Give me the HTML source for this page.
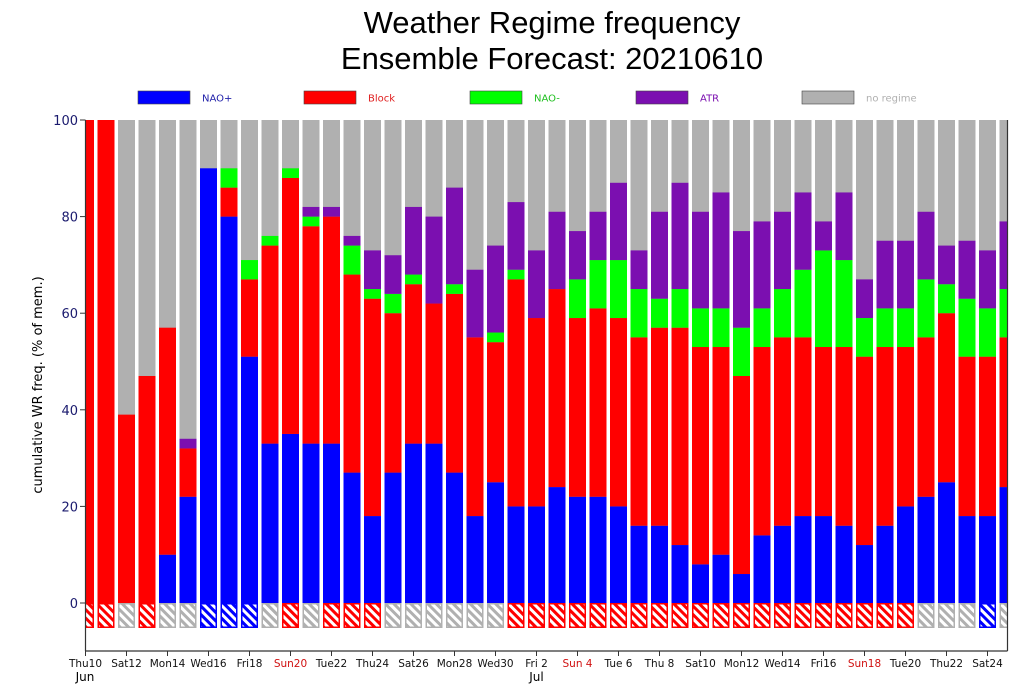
<!DOCTYPE html>
<html><head><meta charset="utf-8"><style>
html,body{margin:0;padding:0;background:#fff;}
svg{display:block;font-family:"DejaVu Sans","Liberation Sans",sans-serif;}
</style></head><body>
<svg id="chart" width="1024" height="686" viewBox="0 0 1024 686" xmlns="http://www.w3.org/2000/svg">
<defs>
<clipPath id="plotclip"><rect x="86" y="100" width="921" height="560"/></clipPath>
<pattern id="h-red" patternUnits="userSpaceOnUse" width="6" height="6" patternTransform="rotate(-45)"><rect width="6" height="6" fill="#fff"/><rect width="3" height="6" fill="#ff0000"/></pattern>
<pattern id="h-blue" patternUnits="userSpaceOnUse" width="6" height="6" patternTransform="rotate(-45)"><rect width="6" height="6" fill="#fff"/><rect width="3" height="6" fill="#0000ff"/></pattern>
<pattern id="h-gray" patternUnits="userSpaceOnUse" width="6" height="6" patternTransform="rotate(-45)"><rect width="6" height="6" fill="#fff"/><rect width="3" height="6" fill="#b0b0b0"/></pattern>
</defs>
<text x="552" y="33" font-size="31" text-anchor="middle" font-family="Liberation Sans, sans-serif">Weather Regime frequency</text>
<text x="552" y="69" font-size="31" text-anchor="middle" font-family="Liberation Sans, sans-serif">Ensemble Forecast: 20210610</text>
<g id="legend"></g>
<g id="bars" clip-path="url(#plotclip)"></g>
<g id="axes"></g>
<text transform="translate(42,385) rotate(-90)" font-size="13" text-anchor="middle">cumulative WR freq. (% of mem.)</text>
</svg>
<script>
const dayLabels = ["Thu10","Sat12","Mon14","Wed16","Fri18","Sun20","Tue22","Thu24","Sat26","Mon28","Wed30","Fri 2","Sun 4","Tue 6","Thu 8","Sat10","Mon12","Wed14","Fri16","Sun18","Tue20","Thu22","Sat24"];
const naoPlus = [0,0,0,0,10,22,90,80,51,33,35,33,33,27,18,27,33,33,27,18,25,20,20,24,22,22,20,16,16,12,8,10,6,14,16,18,18,16,12,16,20,22,25,18,18,24];
const block = [100,100,39,47,47,10,0,6,16,41,53,45,47,41,45,33,33,29,37,37,29,47,39,41,37,39,39,39,41,45,45,43,41,39,39,37,35,37,39,37,33,33,35,33,33,31];
const naoMinus = [0,0,0,0,0,0,0,4,4,2,2,2,0,6,2,4,2,0,2,0,2,2,0,0,8,10,12,10,6,8,8,8,10,8,10,14,20,18,8,8,8,12,6,12,10,10];
const atr = [0,0,0,0,0,2,0,0,0,0,0,2,2,2,8,8,14,18,20,14,18,14,14,16,10,10,16,8,18,22,20,24,20,18,16,16,6,14,8,14,14,14,8,12,12,14];
const dominant = ["r","r","g","r","g","g","b","b","b","g","r","g","r","r","r","g","g","g","g","g","g","r","r","r","r","r","r","r","r","r","r","r","r","r","r","r","r","r","r","r","r","g","g","g","b","g"];
const legendNames = ["NAO+","Block","NAO-","ATR","no regime"];
const yTicks = [0,20,40,60,80,100];

const NS="http://www.w3.org/2000/svg";
const X0=85.5, DX=20.5, BW=17, Y0=603, PPU=4.83;
const xs = i => X0 + DX*i;
const ys = v => Y0 - v*PPU;
const cols = {nao:"#0000ff",block:"#ff0000",naom:"#00ff00",atr:"#7b0fb0",none:"#b0b0b0"};
function mk(tag, attrs, parent){const e=document.createElementNS(NS,tag);for(const k in attrs)e.setAttribute(k,attrs[k]);parent.appendChild(e);return e;}
const bars=document.getElementById('bars');
for(let i=0;i<naoPlus.length;i++){
  const g=mk('g',{},bars);
  
  
  const segs=[[naoPlus[i],cols.nao,'nao-plus'],[block[i],cols.block,'block'],[naoMinus[i],cols.naom,'nao-minus'],[atr[i],cols.atr,'atr']];
  let cum=0; const x=xs(i)-BW/2;
  const bg=mk('rect',{x:x,y:ys(100),width:BW,height:100*PPU,fill:cols.none},g);
  
  
  for(const [v,c,n] of segs){
    if(v>0){const r=mk('rect',{x:x,y:ys(cum+v),width:BW,height:v*PPU,fill:c},g);
      
      }
    cum+=v;
  }
  const d=dominant[i];
  const hc=d==='r'?'red':d==='b'?'blue':'gray';
  const sc=d==='r'?'#ff0000':d==='b'?'#0000ff':'#b0b0b0';
  const h=mk('rect',{x:x+0.75,y:Y0+0.75,width:BW-1.5,height:23.5,fill:'url(#h-'+hc+')',stroke:sc,'stroke-width':1.5},g);
  
  
}
const axes=document.getElementById('axes');
mk('line',{x1:85.5,y1:120,x2:85.5,y2:651,stroke:'#333','stroke-width':1.2},axes);
mk('line',{x1:85.5,y1:651,x2:1007.5,y2:651,stroke:'#333','stroke-width':1.2},axes);
mk('line',{x1:1007.5,y1:120,x2:1007.5,y2:651,stroke:'#333','stroke-width':1.2},axes);
for(const t of yTicks){
  mk('line',{x1:80,y1:ys(t),x2:85.5,y2:ys(t),stroke:'#333'},axes);
  const tx=mk('text',{x:78,y:ys(t)+5,'font-size':13,'text-anchor':'end',fill:'#1a1a6e'},axes);
  tx.textContent=t;
  
  
}
for(let k=0;k<dayLabels.length;k++){
  const x=xs(2*k);
  mk('line',{x1:x,y1:651,x2:x,y2:656,stroke:'#333'},axes);
  const lab=dayLabels[k];
  const tx=mk('text',{x:x,y:667,'font-size':10.5,'text-anchor':'middle',fill:lab.startsWith('Sun')?'#d01010':'#111'},axes);
  tx.textContent=lab;
  
  
}
const jun=mk('text',{x:85,y:681,'font-size':12,'text-anchor':'middle'},axes);jun.textContent='Jun';


const jul=mk('text',{x:xs(22),y:681,'font-size':12,'text-anchor':'middle'},axes);jul.textContent='Jul';


const legend=document.getElementById('legend');
const lc=[cols.nao,cols.block,cols.naom,cols.atr,cols.none];
const tc=["#2222aa","#e02020","#20c020","#7b0fb0","#b0b0b0"];
for(let i=0;i<legendNames.length;i++){
  const x=138+166*i;
  const r=mk('rect',{x:x,y:91,width:52,height:13,fill:lc[i],stroke:'#444','stroke-width':0.6},legend);
  
  
  const t=mk('text',{x:x+64,y:101.5,'font-size':10,fill:tc[i]},legend);
  t.textContent=legendNames[i];
  
  
}
</script>
</body></html>
